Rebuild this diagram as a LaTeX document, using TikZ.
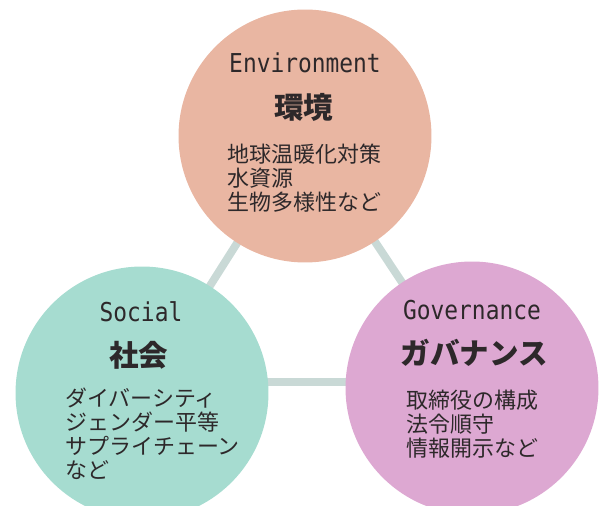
\documentclass[tikz,border=0pt]{standalone}
\usepackage{fontspec}
\newfontfamily\jp{Noto Sans CJK JP}
\newfontfamily\en{DejaVu Sans Mono}[FakeStretch=0.88]
\usetikzlibrary{backgrounds}
\definecolor{envc}{RGB}{233,182,162}
\definecolor{socc}{RGB}{166,220,208}
\definecolor{govc}{RGB}{221,168,210}
\definecolor{linkc}{RGB}{201,217,214}
\definecolor{txt}{RGB}{45,40,42}
\tikzset{
  ball/.style={circle, minimum size=5.06cm, inner sep=0pt, draw=none},
  entitle/.style={font=\en\fontsize{14.8}{16}\selectfont, text=txt, inner sep=0pt},
  jptitle/.style={font=\jp\bfseries\fontsize{16.8}{19}\selectfont, text=txt, inner sep=0pt},
  body/.style={font=\jp\fontsize{12.5}{13.6}\selectfont, align=left, anchor=west, inner sep=0pt, text=txt},
  link/.style={line width=4.5pt, draw=linkc}
}
\begin{document}
\begin{tikzpicture}[x=0.02cm, y=-0.02cm]
\useasboundingbox (0,0) rectangle (600,506);
\clip (0,0) rectangle (600,506);
\node[ball, fill=envc] (env) at (305,136) {};
\node[ball, fill=socc] (soc) at (142,393) {};
\node[ball, fill=govc] (gov) at (472,388) {};
\coordinate (hc) at (0,382);
\begin{scope}[on background layer]
  \draw[link] (env.center) -- (soc.center);
  \draw[link] (env.center) -- (gov.center);
  \draw[link] (soc.center |- hc) -- (gov.center |- hc);
\end{scope}
% Environment
\node[entitle] (envEn) at (305,63) {Environment};
\node[jptitle] (envJp) at (304,107) {環境};
\node[body] (envBody) at (227,178) {地球温暖化対策\\水資源\\生物多様性など};
% Social
\node[entitle] (socEn) at (141,312) {Social};
\node[jptitle] (socJp) at (139,355) {社会};
\node[body] (socBody) at (65,434) {ダイバーシティ\\ジェンダー平等\\サプライチェーン\\など};
% Governance
\node[entitle] (govEn) at (472,310) {Governance};
\node[jptitle] (govJp) at (474,353) {ガバナンス};
\node[body] (govBody) at (406,424) {取締役の構成\\法令順守\\情報開示など};
\end{tikzpicture}
\end{document}
